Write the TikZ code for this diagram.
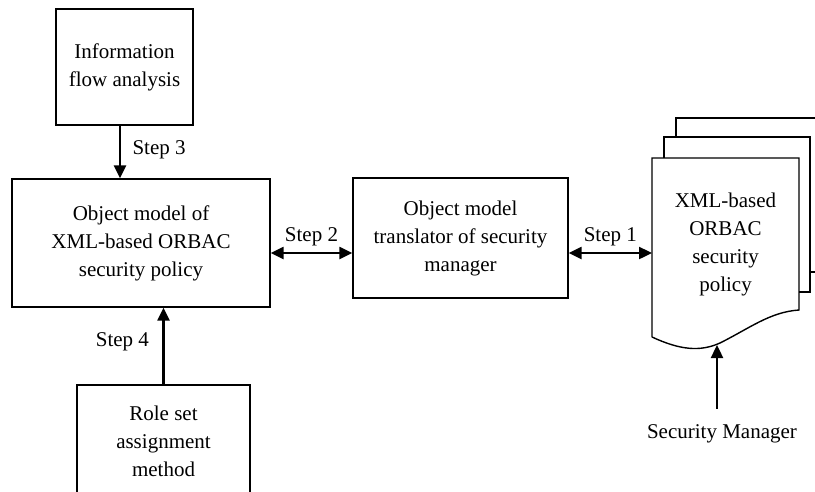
\documentclass[tikz,border=0pt]{standalone}
\usepackage{fontspec}
\setmainfont{Liberation Serif}
\usetikzlibrary{arrows.meta}

\begin{document}
\begin{tikzpicture}[x=1pt,y=-1pt,
		box/.style={draw,line width=1.4pt,align=center,inner sep=0pt},
		arr/.style={line width=2.4pt,-{Triangle[length=13pt,width=12pt]}},
		darr/.style={line width=2.4pt,{Triangle[length=13pt,width=12pt]}-{Triangle[length=13pt,width=12pt]}},
		font=\fontsize{21}{28}\selectfont]
		\useasboundingbox (0,0) rectangle (815,491);
		\clip (0,0) rectangle (815,491);

		% Boxes
		\node[box,minimum width=137pt,minimum height=116pt] (info) at (124.5,67) {Information\\flow analysis};
		\node[box,minimum width=258pt,minimum height=128pt] (obj) at (141,243) {Object model of\\XML-based ORBAC\\security policy};
		\node[box,minimum width=215pt,minimum height=120pt] (trans) at (460.5,238) {Object model\\translator of security\\manager};
		\node[box,minimum width=173pt,minimum height=112pt] (role) at (163.5,441) {Role set\\assignment\\method};

		% Policy documents
		\draw[line width=1.4pt] (676,137) -- (676,118) -- (835,118) -- (835,272) -- (810,272);
		\draw[line width=1.4pt] (664,158) -- (664,137) -- (810,137) -- (810,292) -- (799,292);
		\draw[line width=1.4pt] (652,337) -- (652,158) -- (799,158) -- (799,310)
			.. controls (770,312) and (750,328) .. (720,343)
			.. controls (700,352) and (680,350) .. (652,337);
		\node[align=center,inner sep=0pt] (doc) at (725.5,244) {XML-based\\ORBAC\\security\\policy};
		\coordinate (docin) at (652,253);
		\coordinate (wave) at (717,345);
		\node[inner sep=0pt] (mgr) at (722,434) {Security Manager};

		% Steps
		\draw[arr] ([xshift=-4.5pt]info.south) -- node[right=8pt,pos=0.45] {Step 3} ([xshift=-4.5pt]info.south |- obj.north);
		\draw[darr] ([yshift=-10pt]obj.east) -- node[above=3pt] {Step 2} ([yshift=-10pt]obj.east -| trans.west);
		\draw[darr] (trans.east |- docin) -- node[above=3pt] {Step 1} (docin);
		\draw[arr] (role.north) -- node[left=10pt,pos=0.55] {Step 4} (role.north |- obj.south);
		\draw[arr] ([yshift=16pt]mgr.north -| wave) -- (wave);
\end{tikzpicture}
\end{document}
